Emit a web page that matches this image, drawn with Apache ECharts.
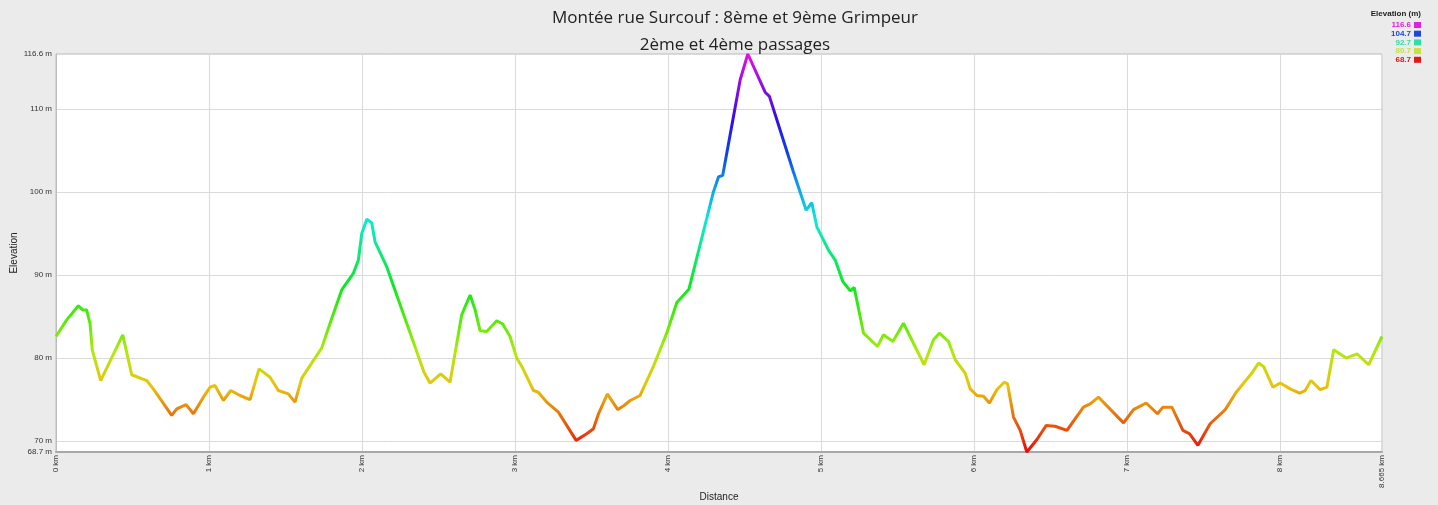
<!DOCTYPE html>
<html>
<head>
<meta charset="utf-8">
<script src="https://cdn.jsdelivr.net/npm/echarts@6/dist/echarts.min.js"></script>
<style>
html,body{margin:0;padding:0;background:#ebebeb;}
#chart{width:1438px;height:505px;}
</style>
</head>
<body>
<div id="chart"></div>
<script>
const titleLines = ["Montée rue Surcouf : 8ème et 9ème Grimpeur", "2ème et 4ème passages"];
const distKm = [0.000,0.070,0.146,0.174,0.200,0.222,0.237,0.292,0.436,0.495,0.593,0.636,0.756,0.789,0.850,0.898,0.963,1.007,1.039,1.094,1.142,1.203,1.268,1.327,1.399,1.453,1.518,1.562,1.606,1.649,1.736,1.791,1.867,1.943,1.976,1.998,2.031,2.063,2.085,2.161,2.405,2.444,2.514,2.575,2.651,2.706,2.739,2.771,2.815,2.880,2.919,2.967,3.011,3.044,3.120,3.152,3.207,3.283,3.399,3.468,3.512,3.545,3.603,3.671,3.712,3.752,3.817,3.904,3.991,4.057,4.136,4.296,4.329,4.357,4.471,4.521,4.634,4.662,4.819,4.902,4.939,4.972,5.048,5.092,5.142,5.190,5.216,5.277,5.368,5.407,5.469,5.538,5.673,5.734,5.773,5.832,5.876,5.941,5.974,6.018,6.061,6.100,6.148,6.196,6.218,6.257,6.301,6.344,6.410,6.471,6.529,6.606,6.714,6.758,6.812,6.976,7.041,7.124,7.198,7.233,7.292,7.364,7.407,7.462,7.542,7.641,7.712,7.815,7.858,7.891,7.952,8.000,8.065,8.126,8.163,8.201,8.261,8.305,8.349,8.431,8.502,8.578,8.665];
const elevM = [82.6,84.6,86.3,85.8,85.8,84.2,81.0,77.3,82.8,78.0,77.3,76.3,73.1,73.9,74.4,73.3,75.3,76.5,76.7,74.9,76.1,75.5,75.0,78.7,77.7,76.1,75.7,74.7,77.6,78.8,81.2,84.2,88.2,90.2,91.8,95.0,96.7,96.3,94.0,91.0,78.3,77.0,78.1,77.1,85.2,87.6,85.8,83.3,83.2,84.5,84.1,82.6,80.0,79.0,76.1,75.9,74.7,73.5,70.1,70.9,71.5,73.3,75.7,73.8,74.3,74.9,75.5,79.0,83.0,86.7,88.3,100.0,101.8,102.0,113.5,116.6,112.0,111.5,102.4,97.8,98.7,95.8,93.0,91.8,89.2,88.1,88.5,83.0,81.4,82.8,82.0,84.2,79.2,82.2,83.0,82.0,79.8,78.2,76.3,75.5,75.4,74.6,76.2,77.1,76.9,72.9,71.3,68.7,70.2,71.9,71.8,71.3,74.1,74.5,75.3,72.2,73.8,74.6,73.3,74.1,74.1,71.3,70.9,69.5,72.1,73.8,75.9,78.2,79.4,79.0,76.5,77.0,76.3,75.8,76.1,77.3,76.2,76.5,81.0,80.0,80.5,79.2,82.6];
const yTicks = [68.7, 70, 80, 90, 100, 110, 116.6];
const xTicks = [0, 1, 2, 3, 4, 5, 6, 7, 8, 8.665];
const legendTitle = "Elevation (m)";
const legendValues = [116.6, 104.7, 92.7, 80.7, 68.7];
const legendColors = ['#e020e0', '#2048d8', '#30e0a0', '#c8e040', '#e01818'];
const rampColors = ['#e90c0c','#e9680c','#e9c40c','#b2e90c','#56e90c','#0ce91e','#0ce97a','#0ce9d7','#0c9fe9','#0c43e9','#310ce9','#8d0ce9','#e90ce9'];

const chart = echarts.init(document.getElementById('chart'));
const data = distKm.map((d, i) => [d, elevM[i]]);

const graphics = [{
  type: 'text', x: 1421, y: 10,
  style: { text: legendTitle, font: 'bold 8px "Liberation Sans", Arial', fill: '#222', align: 'right' }
}];
legendValues.forEach((v, i) => {
  graphics.push({
    type: 'text', x: 1411, y: 21 + i * 8.7,
    style: { text: String(v), font: 'bold 8px "Liberation Sans", Arial', fill: legendColors[i], align: 'right' }
  });
  graphics.push({
    type: 'rect', shape: { x: 1414, y: 22 + i * 8.7, width: 7, height: 6 },
    style: { fill: legendColors[i] }
  });
});

chart.setOption({
  backgroundColor: '#ebebeb',
  animation: false,
  title: {
    text: titleLines.join('\n'),
    left: 730, top: 0, textAlign: 'center',
    textStyle: { fontFamily: '"Open Sans", sans-serif', fontSize: 17, fontWeight: 'normal', color: '#222', lineHeight: 27 }
  },
  graphic: graphics,
  grid: { left: 56, right: 56, top: 54, bottom: 53, outerBoundsMode: 'none', containLabel: false,
    show: true, backgroundColor: '#ffffff', borderColor: '#bdbdbd', borderWidth: 1 },
  xAxis: {
    type: 'value', min: 0, max: 8.665,
    name: 'Distance', nameLocation: 'middle', nameGap: 40, nameMoveOverlap: false,
    nameTextStyle: { fontFamily: '"Liberation Sans", Arial', fontSize: 10, color: '#222' },
    axisLine: { show: true, lineStyle: { color: '#a8a8a8', width: 2 } },
    axisTick: { show: false, customValues: xTicks },
    axisLabel: { customValues: xTicks, rotate: 90, margin: 3, fontFamily: '"Liberation Sans", Arial', fontSize: 8, color: '#333',
      formatter: v => (v === 8.665 ? '8.665' : String(Math.round(v))) + ' km' },
    splitLine: { show: true, lineStyle: { color: '#dadada', width: 1 } }
  },
  yAxis: {
    type: 'value', min: 68.7, max: 116.6,
    name: 'Elevation', nameLocation: 'middle', nameGap: 37, nameRotate: 90, nameMoveOverlap: false,
    nameTextStyle: { fontFamily: '"Liberation Sans", Arial', fontSize: 10, color: '#222' },
    axisLine: { show: true, lineStyle: { color: '#bdbdbd', width: 1 } },
    axisTick: { show: false, customValues: yTicks },
    axisLabel: { customValues: yTicks, margin: 4, fontFamily: '"Liberation Sans", Arial', fontSize: 8, color: '#333',
      formatter: v => v + ' m' },
    splitLine: { show: true, lineStyle: { color: '#dadada', width: 1 } }
  },
  visualMap: {
    type: 'continuous', show: false, dimension: 1, seriesIndex: 0,
    min: 68.7, max: 116.6,
    inRange: { color: rampColors }
  },
  series: [{
    type: 'line', data: data, showSymbol: false, smooth: false,
    lineStyle: { width: 3 }
  }]
});
</script>
</body>
</html>
